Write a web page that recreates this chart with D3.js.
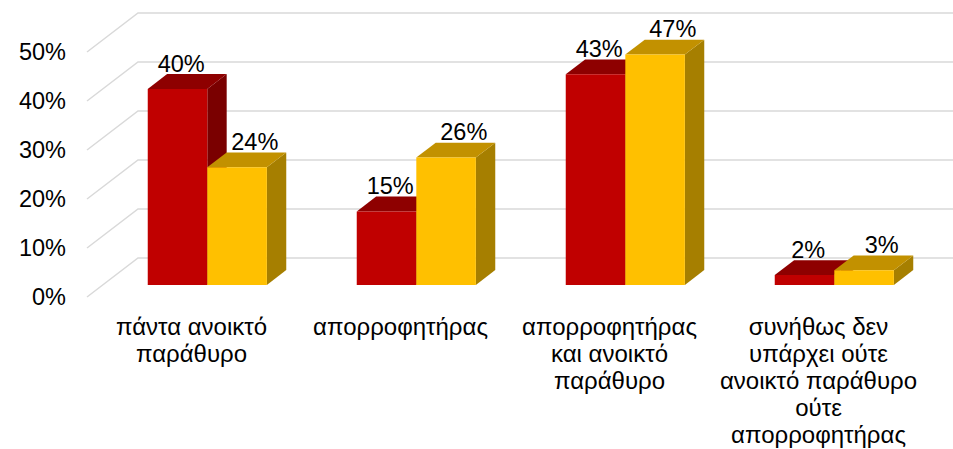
<!DOCTYPE html>
<html>
<head>
<meta charset="utf-8">
<script src="https://cdn.jsdelivr.net/npm/d3@7"></script>
<style>
  html, body { margin: 0; padding: 0; background: #ffffff; }
  svg { display: block; }
  text { font-family: "Liberation Sans", Arial, sans-serif; fill: #000; }
</style>
</head>
<body>
<svg id="chart" width="953" height="449"></svg>
<script>
// ---- data ----
const categories = [
  "πάντα ανοικτό παράθυρο",
  "απορροφητήρας",
  "απορροφητήρας και ανοικτό παράθυρο",
  "συνήθως δεν υπάρχει ούτε ανοικτό παράθυρο ούτε απορροφητήρας"
];
const categoryLines = [
  ["πάντα ανοικτό", "παράθυρο"],
  ["απορροφητήρας"],
  ["απορροφητήρας", "και ανοικτό", "παράθυρο"],
  ["συνήθως δεν", "υπάρχει ούτε", "ανοικτό παράθυρο", "ούτε", "απορροφητήρας"]
];
const seriesNames = ["Σειρά 1", "Σειρά 2"];
const series1 = [0.40, 0.15, 0.43, 0.02];
const series2 = [0.24, 0.26, 0.47, 0.03];
const yTicks = [0, 0.1, 0.2, 0.3, 0.4, 0.5];

// ---- styling ----
const palette = [
  { front: "#C00000", top: "#8E0000", side: "#7A0000" },
  { front: "#FFC000", top: "#C29100", side: "#A67F00" }
];
const labelShift = [-6, 8];
const numFont = 23.5, catFont = 24;

const svg = d3.select("#chart");

// front plane geometry
const plotLeft = 87, plotRight = 923;
const depthDX = 51, depthDY = -39;       // full depth offset of the walls
const barZ0 = 0.31, barZ1 = 0.69;        // bar depth (fraction of full depth)

const y = d3.scaleLinear().domain([0, 0.5]).range([297, 52]);
const x0 = d3.scaleBand().domain(categories).range([plotLeft, plotRight])
  .paddingInner(0.43).paddingOuter(0.215);
const x1 = d3.scaleBand().domain(seriesNames).range([0, x0.bandwidth()]);

const proj = (px, v, z) => [px + z * depthDX, y(v) + z * depthDY];

// gridlines: side wall + back wall
const grid = svg.append("g");
yTicks.forEach(t => {
  const a = proj(plotLeft, t, 0), b = proj(plotLeft, t, 1), c = proj(plotRight, t, 1);
  grid.append("path")
    .attr("d", `M${a[0]},${a[1]}L${b[0]},${b[1]}L${c[0]},${c[1]}`)
    .attr("fill", "none")
    .attr("stroke", "#D9D9D9")
    .attr("stroke-width", 1.5);
});

// y axis labels (front plane)
const yAxis = d3.axisLeft(y).tickValues(yTicks).tickSize(0).tickPadding(21)
  .tickFormat(d3.format(".0%"));
const ax = svg.append("g").attr("transform", `translate(${plotLeft},0)`).call(yAxis);
ax.select(".domain").remove();
ax.selectAll("text").attr("font-size", numFont)
  .attr("font-family", "'Liberation Sans', Arial, sans-serif").attr("fill", "#000");

// bars
const seriesData = [series1, series2];
const bars = svg.append("g");
const poly = pts => "M" + pts.map(p => p.join(",")).join("L") + "Z";
categories.forEach((cat, i) => {
  seriesData.forEach((vals, s) => {
    const v = vals[i];
    const xl = x0(cat) + x1(seriesNames[s]);
    const xr = xl + x1.bandwidth();
    const col = palette[s];
    const fbl = proj(xl, 0, barZ0), fbr = proj(xr, 0, barZ0);
    const ftl = proj(xl, v, barZ0), ftr = proj(xr, v, barZ0);
    const btl = proj(xl, v, barZ1), btr = proj(xr, v, barZ1), bbr = proj(xr, 0, barZ1);
    bars.append("path").attr("d", poly([fbr, ftr, btr, bbr])).attr("fill", col.side);
    bars.append("path").attr("d", poly([ftl, ftr, btr, btl])).attr("fill", col.top);
    bars.append("path").attr("d", poly([fbl, fbr, ftr, ftl])).attr("fill", col.front);
  });
});

// data labels
const labels = svg.append("g");
categories.forEach((cat, i) => {
  seriesData.forEach((vals, s) => {
    const v = vals[i];
    const xc = x0(cat) + x1(seriesNames[s]) + x1.bandwidth() / 2;
    const p = proj(xc, v, (barZ0 + barZ1) / 2);
    labels.append("text")
      .attr("x", p[0] + labelShift[s])
      .attr("y", p[1] - 10)
      .attr("text-anchor", "middle")
      .attr("font-size", numFont)
      .text(d3.format(".0%")(v));
  });
});

// category labels
const catG = svg.append("g");
categories.forEach((cat, i) => {
  const cx = x0(cat) + x0.bandwidth() / 2;
  const t = catG.append("text").attr("text-anchor", "middle").attr("font-size", catFont);
  categoryLines[i].forEach((line, k) => {
    t.append("tspan").attr("x", cx).attr("y", 335 + k * 27).text(line);
  });
});
</script>
</body>
</html>
